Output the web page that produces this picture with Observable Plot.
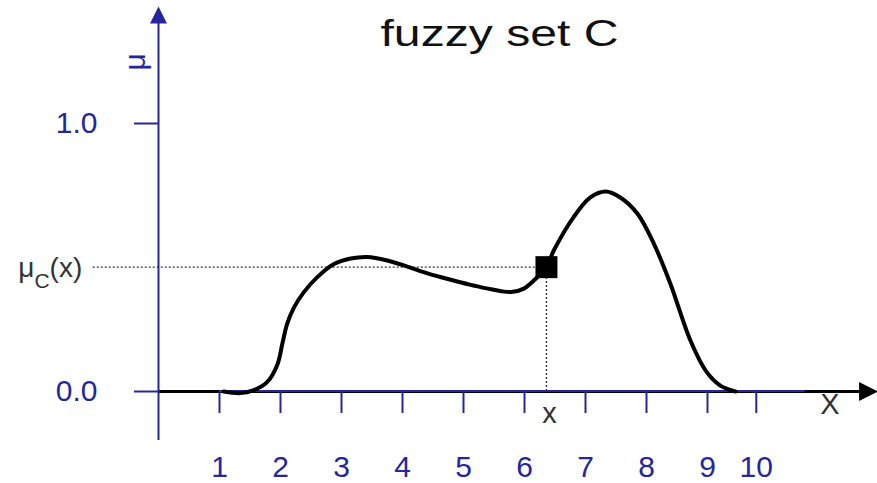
<!DOCTYPE html>
<html><head><meta charset="utf-8">
<script src="https://cdn.jsdelivr.net/npm/d3@7"></script>
<script src="https://cdn.jsdelivr.net/npm/@observablehq/plot@0.6"></script>
<style>html,body{margin:0;padding:0;background:#fff;}</style>
</head><body><div id="chart"></div>
<script>
// ---- data ----
const titleText = "fuzzy set C";
const curveX  = [1.07, 1.34, 1.55, 1.78, 1.95, 2.03, 2.11, 2.22, 2.38, 2.6, 2.87, 3.15, 3.42, 3.75, 4.08, 4.41, 4.79, 5.1, 5.4, 5.6, 5.78, 5.98, 6.18, 6.36, 6.48, 6.8, 7.08, 7.33, 7.57, 7.85, 8.12, 8.39, 8.72, 8.97, 9.21, 9.46];
const curveMu = [0, -0.006, 0.004, 0.035, 0.101, 0.178, 0.253, 0.313, 0.37, 0.426, 0.475, 0.496, 0.502, 0.489, 0.466, 0.441, 0.417, 0.399, 0.384, 0.375, 0.371, 0.383, 0.42, 0.464, 0.526, 0.649, 0.724, 0.746, 0.724, 0.664, 0.552, 0.403, 0.19, 0.078, 0.022, 0];
const xTickValues = [1, 2, 3, 4, 5, 6, 7, 8, 9, 9.8];
const xTickLabels = ["1", "2", "3", "4", "5", "6", "7", "8", "9", "10"];
const yTickValues = [0, 1];
const yTickLabels = ["0.0", "1.0"];
const pointX = 6.36;
const pointMu = 0.464;
const pointLabel = "x";
const pointMuLabel = "μC(x)";
const xAxisName = "X";
const yAxisName = "μ";

// ---- build ----
const BLUE = "#26269c";
const DARK = "#333";
const FONT = "'Liberation Sans', Arial, Helvetica, sans-serif";
const curve = curveX.map((x, i) => ({x, mu: curveMu[i]}));
const point = [{x: pointX, mu: pointMu}];
const arrowHead = {draw(ctx, size) { const s = Math.sqrt(size); ctx.moveTo(0, -s/2); ctx.lineTo(s/2, s/2); ctx.lineTo(-s/2, s/2); ctx.closePath(); }};
const xMax = 11.787, yMax = 1.459;

const svg = Plot.plot({
  width: 877, height: 483,
  marginLeft: 158, marginRight: 0, marginTop: 0, marginBottom: 92,
  x: {domain: [0, xMax]},
  y: {domain: [0, yMax]},
  style: {fontFamily: FONT, fontSize: "30px", color: BLUE, background: "#fff"},
  marks: [
    Plot.ruleY([0], {x1: 0, x2: 11.6, stroke: "#000", strokeWidth: 3}),
    Plot.ruleY([0], {x1: 1, x2: 10.6, stroke: BLUE, strokeWidth: 2, dy: -0.5}),
    Plot.ruleX([0], {y1: -0.183, y2: 1.38, stroke: BLUE, strokeWidth: 2}),
    Plot.axisX(xTickValues, {anchor: "bottom", tickSize: 22, tickPadding: 42, strokeWidth: 2, fontSize: 30,
      tickFormat: d => xTickLabels[xTickValues.indexOf(d)], label: null}),
    Plot.axisY(yTickValues, {anchor: "left", tickSize: 24, tickPadding: 37, strokeWidth: 2, fontSize: 30,
      tickFormat: d => yTickLabels[yTickValues.indexOf(d)], label: null}),
    Plot.dot([0], {x: d => d, y: () => 1.405, symbol: arrowHead, r: 9.6, fill: BLUE, stroke: null}),
    Plot.dot([0], {x: () => 11.64, y: d => d, symbol: arrowHead, r: 10.7, rotate: 90, fill: "#000", stroke: null}),
    Plot.ruleY(point, {y: "mu", x1: () => -1.07, x2: "x", stroke: DARK, strokeWidth: 1.4, strokeDasharray: "2,2"}),
    Plot.ruleX(point, {x: "x", y1: () => 0, y2: "mu", stroke: DARK, strokeWidth: 1.4, strokeDasharray: "2,2"}),
    Plot.line(curve, {x: "x", y: "mu", curve: "catmull-rom", stroke: "#000", strokeWidth: 4}),
    Plot.dot(point, {x: "x", y: "mu", symbol: "square", r: 12.4, fill: "#000", stroke: null}),
    Plot.text(point, {x: "x", y: () => 0, text: () => pointLabel, dx: 3, dy: 22, fontSize: 29, fill: DARK}),
    Plot.text(point, {x: () => -1.07, y: "mu", text: () => pointMuLabel, textAnchor: "end", dx: -11, dy: 1, fontSize: 28, fill: DARK}),
    Plot.text([xAxisName], {text: d => d, frameAnchor: "bottom-right", dx: -38, dy: 22, fontSize: 29, fill: DARK}),
    Plot.text([yAxisName], {text: d => d, frameAnchor: "top-left", dx: -35, dy: 70, rotate: -90, fontSize: 30, fill: BLUE}),
    Plot.text([titleText], {text: d => d, frameAnchor: "top", dx: -18.5, dy: 19.5, fontSize: 37, fill: "#111"})
  ]
});

d3.select(svg).selectAll("text").each(function() {
  const t = this.textContent;
  if (t === titleText) {
    this.setAttribute("textLength", 238);
    this.setAttribute("lengthAdjust", "spacingAndGlyphs");
  } else if (t === pointMuLabel) {
    const el = d3.select(this);
    el.text(null);
    el.append("tspan").text("μ");
    el.append("tspan").attr("dy", 11).attr("font-size", 21).text("C");
    el.append("tspan").attr("dy", -11).text("(x)");
  }
});
document.getElementById("chart").appendChild(svg);
</script>
</body></html>
